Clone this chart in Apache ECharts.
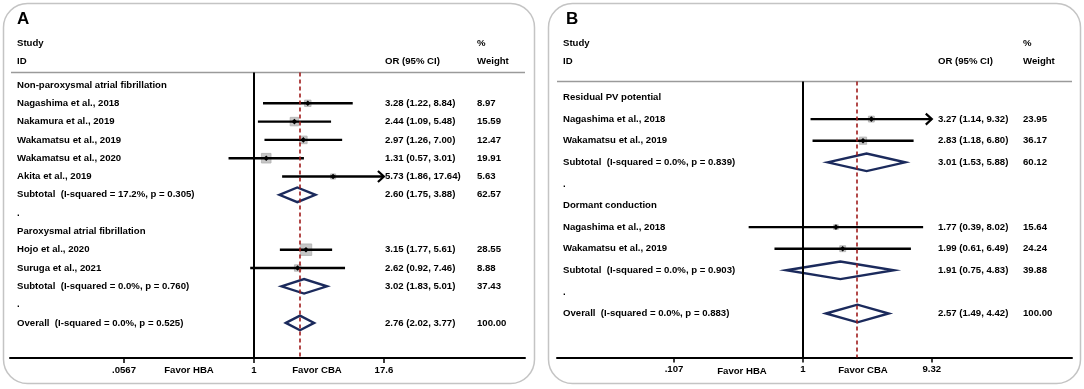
<!DOCTYPE html>
<html>
<head>
<meta charset="utf-8">
<script src="https://cdn.jsdelivr.net/npm/echarts@6/dist/echarts.min.js"></script>
<style>
html, body { margin: 0; padding: 0; background: #fff; }
#main { width: 1084px; height: 389px; }
</style>
</head>
<body>
<div id="main"></div>
<script>
// ---- panel A data ----
var studyA = ['Non-paroxysmal atrial fibrillation', 'Nagashima et al., 2018', 'Nakamura et al., 2019',
    'Wakamatsu et al., 2019', 'Wakamatsu et al., 2020', 'Akita et al., 2019',
    'Subtotal  (I-squared = 17.2%, p = 0.305)', '.', 'Paroxysmal atrial fibrillation',
    'Hojo et al., 2020', 'Suruga et al., 2021', 'Subtotal  (I-squared = 0.0%, p = 0.760)', '.',
    'Overall  (I-squared = 0.0%, p = 0.525)'];
var kindA = ['h', 's', 's', 's', 's', 's', 'd', 'b', 'h', 's', 's', 'd', 'b', 'd'];   // h=heading s=study d=pooled b=blank
var orA = [null, 3.28, 2.44, 2.97, 1.31, 5.73, 2.60, null, null, 3.15, 2.62, 3.02, null, 2.76];
var loA = [null, 1.22, 1.09, 1.26, 0.57, 1.86, 1.75, null, null, 1.77, 0.92, 1.83, null, 2.02];
var hiA = [null, 8.84, 5.48, 7.00, 3.01, 17.64, 3.88, null, null, 5.61, 7.46, 5.01, null, 3.77];
var wA = [null, 8.97, 15.59, 12.47, 19.91, 5.63, 62.57, null, null, 28.55, 8.88, 37.43, null, 100.00];
var tickA = [0.0567, 1, 17.6];
var tickTextA = ['.0567', '1', '17.6'];

// ---- panel B data ----
var studyB = ['Residual PV potential', 'Nagashima et al., 2018', 'Wakamatsu et al., 2019',
    'Subtotal  (I-squared = 0.0%, p = 0.839)', '.', 'Dormant conduction',
    'Nagashima et al., 2018', 'Wakamatsu et al., 2019', 'Subtotal  (I-squared = 0.0%, p = 0.903)', '.',
    'Overall  (I-squared = 0.0%, p = 0.883)'];
var kindB = ['h', 's', 's', 'd', 'b', 'h', 's', 's', 'd', 'b', 'd'];
var orB = [null, 3.27, 2.83, 3.01, null, null, 1.77, 1.99, 1.91, null, 2.57];
var loB = [null, 1.14, 1.18, 1.53, null, null, 0.39, 0.61, 0.75, null, 1.49];
var hiB = [null, 9.32, 6.80, 5.88, null, null, 8.02, 6.49, 4.83, null, 4.42];
var wB = [null, 23.95, 36.17, 60.12, null, null, 15.64, 24.24, 39.88, null, 100.00];
var tickB = [0.107, 1, 9.32];
var tickTextB = ['.107', '1', '9.32'];

var FONT = 'bold 9.6px "Liberation Sans", Arial, sans-serif';
var NAVY = '#1b2a5c';

var panels = [
    {study: studyA, kind: kindA, or: orA, lo: loA, hi: hiA, w: wA, tick: tickA, tickText: tickTextA,
     colLabel: 7, colOr: 375, colW: 467, sq: 2.15, dh: 7.3, ciW: 2.4},
    {study: studyB, kind: kindB, or: orB, lo: loB, hi: hiB, w: wB, tick: tickB, tickText: tickTextB,
     colLabel: 6, colOr: 381, colW: 466, sq: 1.2, dh: 8.8, ciW: 2.4}
];

function makeRender(p) {
    return function (params, api) {
        var i = api.value(1);
        var y = api.coord([0, i])[1];
        var cs = params.coordSys;
        var kids = [];
        function txt(x, s) {
            return {type: 'text', style: {x: x, y: y, text: s, font: FONT, fill: '#000', align: 'left', verticalAlign: 'middle'}};
        }
        kids.push(txt(cs.x + p.colLabel, p.study[i]));
        var k = p.kind[i];
        if (k === 's' || k === 'd') {
            var tmax = p.tick[p.tick.length - 1];
            var capped = p.hi[i] >= tmax;
            var xm = api.coord([Math.log(p.or[i]), i])[0];
            var xl = api.coord([Math.log(p.lo[i]), i])[0];
            var xh = api.coord([Math.log(Math.min(p.hi[i], tmax)), i])[0];
            kids.push(txt(cs.x + p.colOr, p.or[i].toFixed(2) + ' (' + p.lo[i].toFixed(2) + ', ' + p.hi[i].toFixed(2) + ')'));
            kids.push(txt(cs.x + p.colW, p.w[i].toFixed(2)));
            if (k === 'd') {
                kids.push({type: 'polygon', shape: {points: [[xl, y], [xm, y - p.dh], [xh, y], [xm, y + p.dh]]},
                    style: {fill: null, stroke: NAVY, lineWidth: 2.4}});
            } else {
                var s = p.sq * Math.sqrt(p.w[i]);
                kids.push({type: 'rect', shape: {x: xm - s / 2, y: y - s / 2, width: s, height: s},
                    style: {fill: '#c6c6c6', stroke: '#b0b0b0', lineWidth: 0.8}});
                kids.push({type: 'line', shape: {x1: xl, y1: y, x2: xh, y2: y},
                    style: {stroke: '#000', lineWidth: p.ciW}});
                if (capped) {
                    kids.push({type: 'polyline', shape: {points: [[xh - 6, y - 5.5], [xh, y], [xh - 6, y + 5.5]]},
                        style: {stroke: '#000', lineWidth: 2.2, fill: null}});
                }
                kids.push({type: 'polygon', shape: {points: [[xm - 2.8, y], [xm, y - 2.8], [xm + 2.8, y], [xm, y + 2.8]]},
                    style: {fill: '#000'}});
            }
        }
        return {type: 'group', children: kids};
    };
}

var grids = [
    {left: 10, width: 515, top: 72.5, height: 285.5, outerBoundsMode: 'none'},
    {left: 557, width: 515, top: 81.5, height: 276, outerBoundsMode: 'none'}
];
var xRange = [[-5.386, 5.982], [-4.263, 4.662]];
var yRange = [[-0.683, 14.918], [-0.741, 12.037]];
var overallIdx = [13, 10];

var xAxes = [], yAxes = [], series = [];
panels.forEach(function (p, g) {
    var tv = p.tick.map(function (t) { return Math.log(t); });
    xAxes.push({
        type: 'value', gridIndex: g, min: xRange[g][0], max: xRange[g][1], position: 'bottom',
        splitLine: {show: false},
        axisLine: {show: true, onZero: false, lineStyle: {color: '#000', width: 2}},
        axisTick: {show: true, inside: false, length: 5, customValues: tv, lineStyle: {color: '#000', width: 1.5}},
        axisLabel: {
            customValues: tv, margin: 7, color: '#000', fontWeight: 'bold', fontSize: 9.6,
            fontFamily: '"Liberation Sans", Arial, sans-serif',
            formatter: function (v) {
                var best = 0;
                tv.forEach(function (t, j) { if (Math.abs(t - v) < Math.abs(tv[best] - v)) best = j; });
                return p.tickText[best];
            }
        }
    });
    yAxes.push({type: 'value', gridIndex: g, inverse: true, min: yRange[g][0], max: yRange[g][1], show: false});
    series.push({
        type: 'custom', xAxisIndex: g, yAxisIndex: g, clip: false,
        data: p.study.map(function (s, i) { return [0, i]; }),
        renderItem: makeRender(p),
        markLine: {
            silent: true, symbol: ['none', 'none'], label: {show: false}, animation: false,
            data: [
                {xAxis: 0, lineStyle: {color: '#000', width: 2, type: 'solid'}},
                {xAxis: Math.log(p.or[overallIdx[g]]), lineStyle: {color: '#a01c1c', width: 1.6, type: [4, 3]}}
            ]
        }
    });
});

function gtext(x, y, s, size) {
    return {type: 'text', x: x, y: y, silent: true,
        style: {text: s, font: 'bold ' + (size || 9.6) + 'px "Liberation Sans", Arial, sans-serif',
            fill: '#000', align: 'left', verticalAlign: 'middle'}};
}
function gctext(x, y, s) {
    var t = gtext(x, y, s);
    t.style.align = 'center';
    return t;
}

var graphics = [
    {type: 'rect', shape: {x: 3.5, y: 3.5, width: 531, height: 380, r: 24}, style: {fill: null, stroke: '#c4c4c4', lineWidth: 1.5}, silent: true},
    {type: 'rect', shape: {x: 548.5, y: 3.5, width: 532, height: 380, r: 24}, style: {fill: null, stroke: '#c4c4c4', lineWidth: 1.5}, silent: true},
    {type: 'line', shape: {x1: 11, y1: 72.5, x2: 525, y2: 72.5}, style: {stroke: '#9a9a9a', lineWidth: 1.5}, silent: true},
    {type: 'line', shape: {x1: 557, y1: 81.5, x2: 1072, y2: 81.5}, style: {stroke: '#9a9a9a', lineWidth: 1.5}, silent: true},
    gtext(17, 19, 'A', 17), gtext(17, 43, 'Study'), gtext(17, 61, 'ID'),
    gtext(477, 43, '%'), gtext(385, 61, 'OR (95% CI)'), gtext(477, 61, 'Weight'),
    gtext(566, 19, 'B', 17), gtext(563, 43, 'Study'), gtext(563, 61, 'ID'),
    gtext(1023, 43, '%'), gtext(938, 61, 'OR (95% CI)'), gtext(1023, 61, 'Weight'),
    gctext(189, 370, 'Favor HBA'), gctext(317, 370, 'Favor CBA'),
    gctext(742, 371, 'Favor HBA'), gctext(863, 370, 'Favor CBA')
];

var chart = echarts.init(document.getElementById('main'), null, {renderer: 'canvas'});
chart.setOption({
    animation: false,
    backgroundColor: '#fff',
    grid: grids,
    xAxis: xAxes,
    yAxis: yAxes,
    series: series,
    graphic: graphics
});
</script>
</body>
</html>
